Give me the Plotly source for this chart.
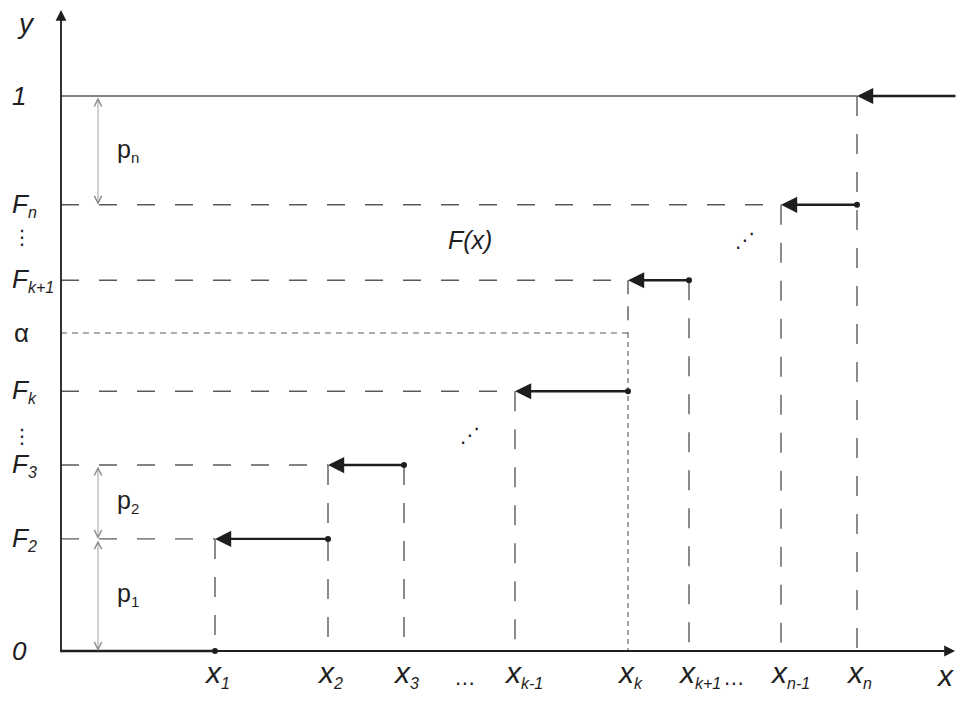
import plotly.graph_objects as go

# ---- data (abstract units) ----
x_names = ["x", "x", "x", "x", "x", "x", "x", "x"]
x_subs = ["1", "2", "3", "k-1", "k", "k+1", "n-1", "n"]
x_pos = [1.54, 2.67, 3.43, 4.54, 5.67, 6.28, 7.20, 7.96]
x_end = 8.96

y_names = ["0", "F", "F", "F", "F", "F", "1"]
y_subs = ["", "2", "3", "k", "k+1", "n", ""]
y_levels = [0.0, 0.202, 0.335, 0.468, 0.668, 0.804, 1.0]
alpha = 0.573

# steps: value held on [left, right)
step_left = [1.54, 2.67, 4.54, 5.67, 7.20, 7.96]
step_right = [2.67, 3.43, 5.67, 6.28, 7.96, 8.96]
step_level = [0.202, 0.335, 0.468, 0.668, 0.804, 1.0]

# vertical guide lines: top of each guide at x_pos
vert_top = [0.202, 0.335, 0.335, 0.468, 0.668, 0.668, 0.804, 1.0]

# probability brackets
p_subs = ["1", "2", "n"]
p_lo = [0.0, 0.202, 0.804]
p_hi = [0.202, 0.335, 1.0]
p_x = 0.37

# page body has an 8px margin: figure is placed at (8,8)
XR = [-0.53, 8.96]
YR = [-0.0775, 1.1586]

GRAY = "#5a5a5a"
DARK = "#1e1e1e"
FONT = "Liberation Sans"


def sub(s, size):
    return "" if not s else '<sub><span style="font-size:%dpx">%s</span></sub>' % (size, s)


fig = go.Figure()


def seg(x0, y0, x1, y1, color=GRAY, width=1.4, dash="solid"):
    fig.add_trace(go.Scatter(x=[x0, x1], y=[y0, y1], mode="lines",
                             line=dict(color=color, width=width, dash=dash),
                             hoverinfo="skip", showlegend=False))


# horizontal guides from y axis to left end of each step
for L, lv in zip(step_left, step_level):
    if lv == 1.0:
        seg(0, lv, L, lv, color=GRAY, width=1.4)
    else:
        seg(0, lv, L, lv, dash="18px,20px")

# alpha line
xk = x_pos[4]
seg(0, alpha, xk, alpha, width=1.1, dash="6px,5px")

# vertical guides
for i, (xp, top) in enumerate(zip(x_pos, vert_top)):
    if i == 4:
        seg(xp, top, xp, alpha, dash="14px,12px")
        seg(xp, alpha, xp, 0, width=1.1, dash="5px,4px")
    else:
        seg(xp, top, xp, 0, dash="20px,18px")

# thick step at level 0
seg(0, 0, x_pos[0], 0, color=DARK, width=2.6)

annotations = []

# step arrows
for L, R, lv in zip(step_left, step_right, step_level):
    annotations.append(dict(x=L, y=lv, ax=R, ay=lv, xref="x", yref="y", axref="x", ayref="y",
                            showarrow=True, arrowhead=2, arrowsize=1.35, arrowwidth=2.4,
                            arrowcolor=DARK, text=""))

# dots at right ends
dot_x = [x_pos[0]] + [r for r in step_right if r < x_end]
dot_y = [0.0] + [lv for r, lv in zip(step_right, step_level) if r < x_end]
fig.add_trace(go.Scatter(x=dot_x, y=dot_y, mode="markers",
                         marker=dict(color=DARK, size=6), hoverinfo="skip", showlegend=False))

# axes arrows
annotations.append(dict(x=0, y=1.155, ax=0, ay=-0.005, xref="x", yref="y", axref="x", ayref="y",
                        showarrow=True, arrowhead=2, arrowsize=1.2, arrowwidth=1.8,
                        arrowcolor=DARK, text=""))
annotations.append(dict(x=8.94, y=0, ax=-0.005, ay=0, xref="x", yref="y", axref="x", ayref="y",
                        showarrow=True, arrowhead=2, arrowsize=1.2, arrowwidth=1.8,
                        arrowcolor=DARK, text=""))

# p brackets
for lo, hi in zip(p_lo, p_hi):
    annotations.append(dict(x=p_x, y=lo, ax=p_x, ay=hi, xref="x", yref="y", axref="x", ayref="y",
                            showarrow=True, arrowhead=5, startarrowhead=5, arrowside="end+start",
                            arrowsize=1.8, startarrowsize=1.8, arrowwidth=0.8,
                            arrowcolor="#8a8a8a", text=""))
for s, lo, hi in zip(p_subs, p_lo, p_hi):
    annotations.append(dict(x=p_x + 0.17, y=(lo + hi) / 2, xref="x", yref="y",
                            text="p" + sub(s, 15),
                            showarrow=False, xanchor="left", yanchor="middle",
                            font=dict(family=FONT, size=25, color=DARK)))

# y tick labels
for nm, s, lv in zip(y_names, y_subs, y_levels):
    annotations.append(dict(x=-0.51, y=lv, xref="x", yref="y",
                            text="<i>" + nm + sub(s, 16) + "</i>",
                            showarrow=False, xanchor="left", yanchor="middle",
                            font=dict(family=FONT, size=26, color=DARK)))
annotations.append(dict(x=-0.49, y=alpha, xref="x", yref="y", text="α",
                        showarrow=False, xanchor="left", yanchor="middle",
                        font=dict(family=FONT, size=26, color=DARK)))
annotations.append(dict(x=-0.46, y=1.13, xref="x", yref="y", text="<i>y</i>",
                        showarrow=False, xanchor="left", yanchor="middle",
                        font=dict(family=FONT, size=28, color=DARK)))
# vertical ellipses
for yy in [(y_levels[5] + y_levels[4]) / 2 + 0.01, (y_levels[3] + y_levels[2]) / 2 - 0.015]:
    annotations.append(dict(x=-0.39, y=yy, xref="x", yref="y", text="⋮",
                            showarrow=False, xanchor="center", yanchor="middle",
                            font=dict(family="DejaVu Sans", size=20, color=DARK)))

# x tick labels
for nm, s, xp in zip(x_names, x_subs, x_pos):
    annotations.append(dict(x=xp - 0.13, y=-0.077, xref="x", yref="y",
                            text="<i>" + nm + sub(s, 16) + "</i>",
                            showarrow=False, xanchor="left", yanchor="bottom",
                            font=dict(family=FONT, size=30, color=DARK)))
annotations.append(dict(x=8.84, y=-0.077, xref="x", yref="y", text="<i>x</i>",
                        showarrow=False, xanchor="center", yanchor="bottom",
                        font=dict(family=FONT, size=30, color=DARK)))
for xx in [(x_pos[2] + x_pos[3]) / 2 + 0.05, (x_pos[5] + x_pos[6]) / 2 - 0.01]:
    annotations.append(dict(x=xx, y=-0.058, xref="x", yref="y", text="⋯",
                            showarrow=False, xanchor="center", yanchor="middle",
                            font=dict(family="DejaVu Sans", size=20, color=DARK)))

# F(x) label and diagonal ellipses
annotations.append(dict(x=4.09, y=0.741, xref="x", yref="y", text="<i>F(x)</i>",
                        showarrow=False, xanchor="center", yanchor="middle",
                        font=dict(family=FONT, size=25, color=DARK)))
annotations.append(dict(x=4.09, y=0.39, xref="x", yref="y", text="⋰",
                        showarrow=False, xanchor="center", yanchor="middle",
                        font=dict(family="DejaVu Sans", size=20, color=DARK)))
annotations.append(dict(x=6.84, y=0.74, xref="x", yref="y", text="⋰",
                        showarrow=False, xanchor="center", yanchor="middle",
                        font=dict(family="DejaVu Sans", size=20, color=DARK)))

fig.update_layout(
    width=949, height=686,
    margin=dict(l=0, r=0, t=0, b=0),
    paper_bgcolor="white", plot_bgcolor="white",
    xaxis=dict(range=XR, visible=False, fixedrange=True),
    yaxis=dict(range=YR, visible=False, fixedrange=True),
    annotations=annotations,
    showlegend=False,
)

fig.write_html("out.html")
